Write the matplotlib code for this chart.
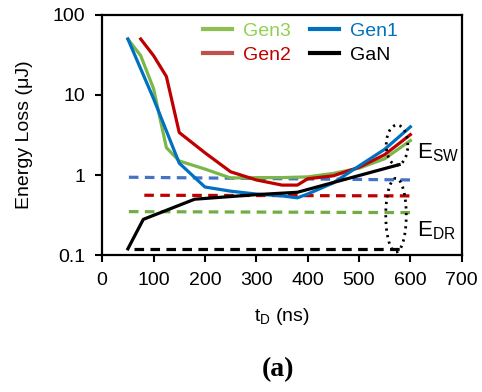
import numpy as np
import matplotlib.pyplot as plt
from matplotlib.lines import Line2D

plt.rcParams['font.family'] = ['Liberation Sans', 'DejaVu Sans']
plt.rcParams['mathtext.fontset'] = 'custom'
plt.rcParams['mathtext.rm'] = 'Liberation Sans'
plt.rcParams['mathtext.it'] = 'Liberation Sans'

# switching loss curves (uJ) vs dead time tD (ns)
t_gen1 = [50, 100, 150, 200, 250, 300, 350, 380, 400, 450, 500, 550, 600]
e_gen1 = [50, 9, 1.41, 0.71, 0.63, 0.58, 0.55, 0.52, 0.58, 0.8, 1.3, 2.1, 4.0]

t_gen2 = [75, 100, 125, 150, 200, 250, 300, 350, 380, 400, 450, 500, 550, 600]
e_gen2 = [50, 31, 17, 3.4, 1.9, 1.1, 0.87, 0.75, 0.75, 0.9, 0.98, 1.25, 1.8, 3.2]

t_gen3 = [50, 75, 100, 125, 150, 200, 250, 300, 350, 400, 450, 500, 550, 600]
e_gen3 = [50, 31, 12, 2.2, 1.5, 1.19, 0.92, 0.93, 0.93, 0.95, 1.05, 1.22, 1.6, 2.7]

t_gan = [50, 80, 180, 300, 380, 578]
e_gan = [0.12, 0.28, 0.5, 0.57, 0.61, 1.35]

# diode reverse-recovery loss (dashed)
t_dr_gen1 = [52, 600]
e_dr_gen1 = [0.94, 0.87]
t_dr_gen2 = [82, 600]
e_dr_gen2 = [0.56, 0.55]
t_dr_gen3 = [52, 600]
e_dr_gen3 = [0.35, 0.34]
t_dr_gan = [62, 582]
e_dr_gan = [0.12, 0.12]

# dotted ellipses: center t, center log10(E), half width (ns), half height (decades)
ell_sw = [574, 0.375, 21, 0.25]
ell_dr = [572, -0.5, 20, 0.46]

c_blue = '#0070C0'
c_red = '#C00000'
c_green = '#7AB648'

fig = plt.figure(figsize=(4.82, 3.92), dpi=100)
ax = fig.add_axes([0.212, 0.349, 0.746, 0.613])

lw = 2.3
ax.plot(t_dr_gen1, e_dr_gen1, color='#4472C4', lw=lw, ls=(0, (3, 2)))
ax.plot(t_dr_gen2, e_dr_gen2, color=c_red, lw=lw, ls=(0, (3, 2)))
ax.plot(t_dr_gen3, e_dr_gen3, color='#70AD47', lw=lw, ls=(0, (3, 2)))
ax.plot(t_dr_gan, e_dr_gan, color='black', lw=lw, ls=(0, (3, 2)))

ax.plot(t_gen3, e_gen3, color=c_green, lw=lw)
ax.plot(t_gen2, e_gen2, color=c_red, lw=lw)
ax.plot(t_gen1, e_gen1, color=c_blue, lw=lw)
ax.plot(t_gan, e_gan, color='black', lw=lw)

th = np.linspace(0, 2 * np.pi, 200)
for cx, cy, a, b in [ell_sw, ell_dr]:
    ax.plot(cx + a * np.cos(th), 10 ** (cy + b * np.sin(th)),
            color='black', lw=2, ls=(0, (0.8, 1.6)))

ax.text(612, 1.9, r'E$_{\mathrm{SW}}$', fontsize=16, va='center', ha='left')
ax.text(612, 0.2, r'E$_{\mathrm{DR}}$', fontsize=16, va='center', ha='left')

ax.set_yscale('log')
ax.set_xlim(0, 700)
ax.set_ylim(0.1, 100)
ax.set_xticks(range(0, 701, 100))
ax.set_yticks([0.1, 1, 10, 100])
ax.set_yticklabels(['0.1', '1', '10', '100'])
ax.minorticks_off()
ax.tick_params(labelsize=14, width=1.5, length=5, direction='out', pad=7)
for s in ax.spines.values():
    s.set_linewidth(1.6)

ax.set_xlabel(r't$_{\mathrm{D}}$ (ns)', fontsize=14, va='center')
ax.set_ylabel('Energy Loss (μJ)', fontsize=14, va='center')
ax.xaxis.set_label_coords(0.5, -0.254)
ax.yaxis.set_label_coords(-0.217, 0.5)

handles = [Line2D([], [], color='#8CC152', lw=3),
           Line2D([], [], color='#C0504D', lw=3),
           Line2D([], [], color=c_blue, lw=3),
           Line2D([], [], color='black', lw=3)]
labels = ['Gen3', 'Gen2', 'Gen1', 'GaN']
ax.legend(handles, labels, ncol=2, frameon=False, fontsize=14,
          loc='upper left', bbox_to_anchor=(0.258, 1.0), borderaxespad=0,
          labelcolor=['#92D050', c_red, c_blue, 'black'],
          handlelength=1.5, columnspacing=1.0, handletextpad=0.55,
          labelspacing=0.3)

fig.text(0.577, 0.056, '(a)', fontsize=20, fontweight='bold',
         family='Liberation Serif', ha='center', va='center')

fig.savefig('out.png', dpi=100)
